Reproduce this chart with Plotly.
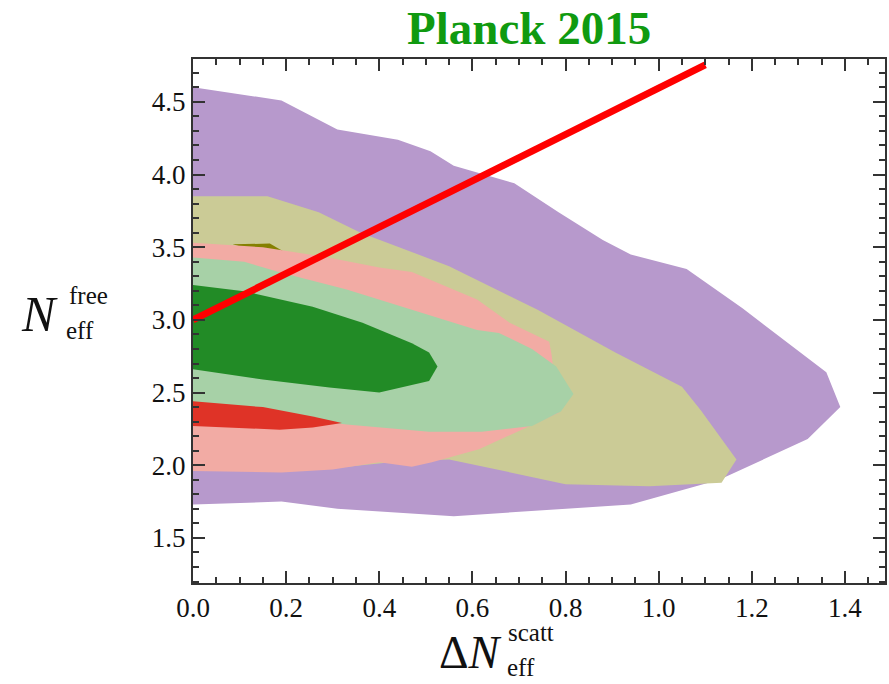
import plotly.graph_objects as go

# Credible-region outlines in the (ΔN_eff^scatt, N_eff^free) plane
purple_x = [0.00, 0.19, 0.31, 0.44, 0.51, 0.56, 0.69, 0.785, 0.88, 0.94, 1.06, 1.18, 1.36, 1.39, 1.32, 1.19, 1.13, 0.94, 0.56, 0.31, 0.19, 0.00]
purple_y = [4.60, 4.51, 4.31, 4.24, 4.16, 4.06, 3.94, 3.74, 3.55, 3.45, 3.35, 3.08, 2.64, 2.40, 2.18, 1.985, 1.90, 1.73, 1.65, 1.70, 1.75, 1.73]

khaki_x = [0.00, 0.16, 0.27, 0.36, 0.55, 0.74, 0.907, 1.05, 1.09, 1.167, 1.135, 0.98, 0.80, 0.55, 0.45, 0.30, 0.00]
khaki_y = [3.85, 3.85, 3.74, 3.60, 3.37, 3.07, 2.775, 2.54, 2.38, 2.04, 1.88, 1.855, 1.87, 2.04, 2.03, 1.98, 1.97]

olive_x = [0.085, 0.165, 0.20, 0.14]
olive_y = [3.52, 3.525, 3.46, 3.47]

pink_x = [0.00, 0.15, 0.29, 0.40, 0.47, 0.61, 0.68, 0.765, 0.77, 0.78, 0.785, 0.614, 0.513, 0.47, 0.40, 0.30, 0.19, 0.00]
pink_y = [3.53, 3.50, 3.43, 3.36, 3.33, 3.14, 2.98, 2.85, 2.76, 2.50, 2.36, 2.11, 2.02, 1.99, 2.02, 1.97, 1.95, 1.96]

lgreen_x = [0.00, 0.11, 0.19, 0.33, 0.47, 0.61, 0.657, 0.728, 0.78, 0.817, 0.79, 0.728, 0.62, 0.507, 0.33, 0.20, 0.00]
lgreen_y = [3.43, 3.40, 3.325, 3.21, 3.07, 2.93, 2.91, 2.80, 2.68, 2.49, 2.37, 2.27, 2.23, 2.23, 2.28, 2.33, 2.36]

dgreen_x = [0.00, 0.114, 0.257, 0.364, 0.47, 0.507, 0.525, 0.507, 0.40, 0.293, 0.15, 0.00]
dgreen_y = [3.24, 3.195, 3.09, 2.98, 2.84, 2.775, 2.68, 2.58, 2.50, 2.535, 2.59, 2.66]

red_x = [0.00, 0.15, 0.257, 0.32, 0.257, 0.186, 0.00]
red_y = [2.44, 2.40, 2.335, 2.29, 2.26, 2.245, 2.27]

# Straight red line N_eff^free = 3 + slope * ΔN
line_x = [0.0, 1.10]
line_y = [3.0, 4.755]

regions = [
    (purple_x, purple_y, "#b799cc"),
    (khaki_x, khaki_y, "#cbcb96"),
    (olive_x, olive_y, "#858000"),
    (pink_x, pink_y, "#f2aba4"),
    (lgreen_x, lgreen_y, "#a7d1a7"),
    (dgreen_x, dgreen_y, "#228b26"),
    (red_x, red_y, "#df3327"),
]

W, H = 889, 684
ML, MR, MT, MB = 193, 2, 59, 101
PW, PH = W - ML - MR, H - MT - MB

fig = go.Figure()
for xs, ys, col in regions:
    fig.add_trace(go.Scatter(
        x=xs + [xs[0]], y=ys + [ys[0]], mode="lines", fill="toself",
        fillcolor=col, line=dict(width=0, color=col), hoverinfo="skip",
        showlegend=False,
    ))

fig.add_trace(go.Scatter(
    x=line_x, y=line_y, mode="lines", line=dict(color="#ff0000", width=7),
    showlegend=False,
))

tickfont = dict(family="Liberation Serif", size=27, color="#111111")
axis_common = dict(
    showgrid=False, zeroline=False, showline=True, linecolor="#333333",
    linewidth=2, mirror="allticks", ticks="inside", ticklen=12,
    tickwidth=2, tickcolor="#333333", tickfont=tickfont, tickformat=".1f",
)

fig.update_xaxes(range=[0, 1.486], dtick=0.2, tick0=0,
                 minor=dict(dtick=0.05, ticks="inside", ticklen=6,
                            tickwidth=2, tickcolor="#333333"),
                 **axis_common)
fig.update_yaxes(range=[1.19, 4.795], dtick=0.5, tick0=1.5,
                 minor=dict(dtick=0.1, ticks="inside", ticklen=6,
                            tickwidth=2, tickcolor="#333333"),
                 **axis_common)

serif = "Liberation Serif"
ink = "#111111"
ann = [
    # title
    dict(text="<b>Planck 2015</b>", x=530, y=28, font=dict(family=serif, size=47, color="#109a10")),
    # y-axis label
    dict(text="<i>N</i>", x=39, y=314, font=dict(family=serif, size=50, color=ink)),
    dict(text="free", x=88, y=295, font=dict(family=serif, size=25, color=ink)),
    dict(text="eff", x=80, y=330, font=dict(family=serif, size=25, color=ink)),
    # x-axis label
    dict(text="Δ<i>N</i>", x=471, y=652, font=dict(family=serif, size=46, color=ink)),
    dict(text="scatt", x=532, y=632, font=dict(family=serif, size=25, color=ink)),
    dict(text="eff", x=522, y=667, font=dict(family=serif, size=25, color=ink)),
]
annotations = []
for a in ann:
    annotations.append(dict(
        text=a["text"], x=(a["x"] - ML) / PW, y=(H - MB - a["y"]) / PH,
        xref="paper", yref="paper",
        xanchor="center", yanchor="middle", showarrow=False, font=a["font"],
    ))

fig.update_layout(
    width=W, height=H,
    margin=dict(l=ML, r=MR, t=MT, b=MB),
    plot_bgcolor="white", paper_bgcolor="white",
    annotations=annotations,
)

fig.write_html("out.html")
